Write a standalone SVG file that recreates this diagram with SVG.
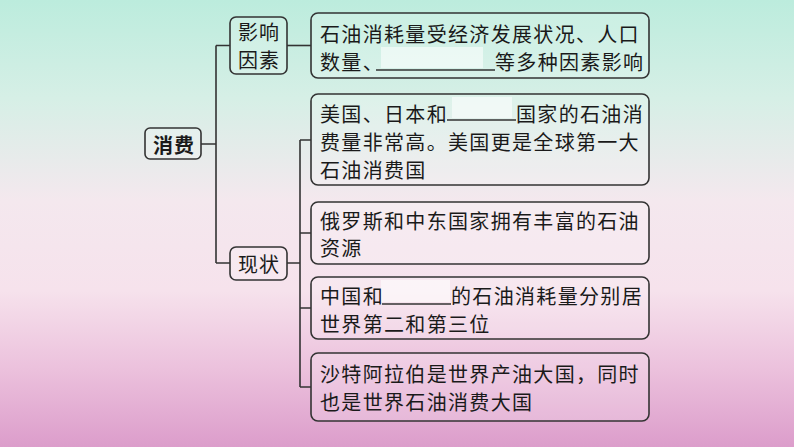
<svg xmlns="http://www.w3.org/2000/svg" width="794" height="447" viewBox="0 0 794 447">
<defs>
<linearGradient id="bg" x1="0" y1="0" x2="0" y2="1">
<stop offset="0" stop-color="#bcecdd"/>
<stop offset="0.22" stop-color="#d6efe6"/>
<stop offset="0.45" stop-color="#f4e8ee"/>
<stop offset="0.65" stop-color="#f6e2ec"/>
<stop offset="0.82" stop-color="#ecc2dd"/>
<stop offset="1" stop-color="#dc9dcb"/>
</linearGradient>
<style>
.box{fill:#ffffff;fill-opacity:0.18;stroke:#333;stroke-width:1.6}
.t{font-family:"Noto Sans CJK SC","Noto Sans CJK JP",sans-serif;font-size:20px;fill:#1a1a1a;letter-spacing:1.33px;dominant-baseline:central}
.c{text-anchor:middle;letter-spacing:1px}
.b{font-weight:bold}
.ln{stroke:#333;stroke-width:1.6;fill:none}
.blank{fill:#ffffff;fill-opacity:0.55}
</style>
</defs>
<rect x="0" y="0" width="794" height="447" fill="url(#bg)"/>
<g id="connectors">
<path class="ln" d="M201,144 H216 M216,45.5 V263 M216,45.5 H230 M216,263 H230"/>
<path class="ln" d="M287,45.5 H311"/>
<path class="ln" d="M287,263 H300 M300,140 V387 M300,140 H311 M300,233 H311 M300,308 H311 M300,387 H311"/>
</g>
<g id="n-xiaofei">
<rect class="box" x="145" y="128" width="56" height="31" rx="5"/>
<text class="t c b" x="174" y="144">消费</text>
</g>
<g id="n-yingxiang">
<rect class="box" x="230" y="17" width="57" height="57" rx="6"/>
<text class="t c" x="259" y="31.5">影响</text>
<text class="t c" x="259" y="59">因素</text>
</g>
<g id="n-xianzhuang">
<rect class="box" x="230" y="247" width="57" height="33" rx="6"/>
<text class="t c" x="259" y="263">现状</text>
</g>
<g id="n-b1">
<rect class="box" x="311" y="13" width="338" height="65" rx="7"/>
<rect class="blank" x="381" y="47" width="102" height="21"/>
<line class="ln" x1="376" y1="70" x2="495" y2="70" stroke-width="1.2"/>
<text class="t" x="320" y="33">石油消耗量受经济发展状况、人口</text>
<text class="t" x="320" y="61">数量、</text>
<text class="t" x="495" y="61">等多种因素影响</text>
</g>
<g id="n-b2">
<rect class="box" x="311" y="94" width="338" height="91" rx="7"/>
<rect class="blank" x="452" y="97" width="60" height="21"/>
<line class="ln" x1="447" y1="120" x2="516" y2="120" stroke-width="1.2"/>
<text class="t" x="320" y="113">美国、日本和</text>
<text class="t" x="516" y="113">国家的石油消</text>
<text class="t" x="320" y="141">费量非常高。美国更是全球第一大</text>
<text class="t" x="320" y="169">石油消费国</text>
</g>
<g id="n-b3">
<rect class="box" x="311" y="202" width="338" height="62" rx="7"/>
<text class="t" x="320" y="220">俄罗斯和中东国家拥有丰富的石油</text>
<text class="t" x="320" y="247">资源</text>
</g>
<g id="n-b4">
<rect class="box" x="311" y="277" width="338" height="62" rx="7"/>
<rect class="blank" x="381" y="280" width="69" height="22"/>
<line class="ln" x1="382" y1="304" x2="451" y2="304" stroke-width="1.2"/>
<text class="t" x="320" y="295">中国和</text>
<text class="t" x="451" y="295">的石油消耗量分别居</text>
<text class="t" x="320" y="323">世界第二和第三位</text>
</g>
<g id="n-b5">
<rect class="box" x="311" y="353" width="338" height="68" rx="7"/>
<text class="t" x="320" y="373">沙特阿拉伯是世界产油大国，同时</text>
<text class="t" x="320" y="401">也是世界石油消费大国</text>
</g>
</svg>
